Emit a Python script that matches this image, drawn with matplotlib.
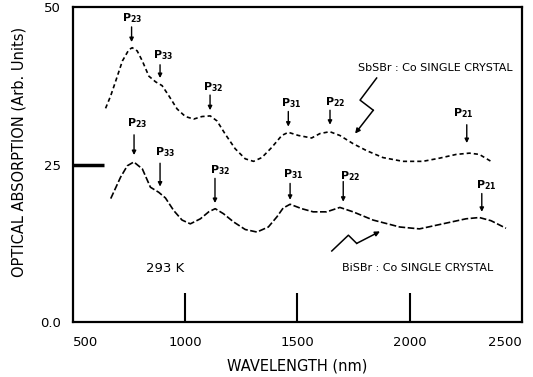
import matplotlib
matplotlib.use("Agg")
import matplotlib.pyplot as plt

# SbSBr:Co curve (upper)
sb_wl = [644, 667, 689, 719, 748, 763, 785, 808, 837, 867, 896, 926, 963, 1000, 1037,
         1074, 1111, 1141, 1178, 1222, 1267, 1304, 1341, 1385, 1430, 1459, 1504, 1563,
         1600, 1644, 1689, 1748, 1808, 1881, 1970, 2059, 2133, 2208, 2267, 2311, 2363]
sb_abs = [33.9, 35.9, 38.2, 41.4, 43.2, 43.5, 43.0, 41.4, 39.0, 38.1, 37.5, 35.9, 33.8, 32.6, 32.2,
          32.6, 32.7, 31.9, 29.8, 27.5, 25.9, 25.5, 26.1, 27.7, 29.6, 30.1, 29.6, 29.2,
          29.9, 30.2, 29.6, 28.3, 27.2, 26.1, 25.5, 25.5, 26.0, 26.6, 26.8, 26.6, 25.5]

# BiSBr:Co curve (lower)
bi_wl = [667, 711, 741, 770, 808, 844, 881, 911, 948, 985, 1022, 1067, 1104, 1133, 1170,
         1215, 1267, 1319, 1370, 1408, 1436, 1467, 1519, 1570, 1630, 1689, 1748, 1837,
         1956, 2044, 2148, 2252, 2311, 2363, 2430]
bi_abs = [19.6, 23.0, 24.8, 25.4, 24.3, 21.4, 20.6, 19.7, 17.7, 16.2, 15.6, 16.4, 17.5, 18.0, 17.2,
          15.9, 14.7, 14.3, 15.1, 16.7, 18.1, 18.7, 18.0, 17.5, 17.5, 18.2, 17.5, 16.2,
          15.1, 14.8, 15.6, 16.4, 16.6, 16.1, 14.9]

# peak markers: subscript, arrow x, arrow top, arrow tip, label x, label y
peak_names = ['23', '33', '32', '31', '22', '21']
sb_arrow_x = [760, 887, 1110, 1459, 1645, 2255]
sb_arrow_top = [46.8, 40.8, 36.0, 33.4, 33.6, 31.3]
sb_arrow_tip = [44.4, 38.7, 33.6, 31.0, 31.3, 28.4]
sb_label_x = [762, 900, 1125, 1474, 1667, 2238]
sb_label_y = [48.2, 42.3, 37.3, 34.7, 34.9, 33.2]

bi_arrow_x = [771, 887, 1132, 1467, 1704, 2322]
bi_arrow_top = [29.7, 25.2, 22.8, 22.0, 22.3, 20.4]
bi_arrow_tip = [26.5, 21.5, 18.9, 19.4, 19.1, 17.5]
bi_label_x = [783, 909, 1154, 1482, 1734, 2344]
bi_label_y = [31.5, 27.0, 24.1, 23.5, 23.1, 21.7]

# squiggly pointers to the curve labels
sb_sq_x = [1853, 1779, 1838, 1757]
sb_sq_y = [38.7, 35.2, 33.6, 29.9]
bi_sq_x = [1653, 1727, 1764, 1868]
bi_sq_y = [11.3, 13.8, 12.5, 14.4]

x_ticks = [500, 1000, 1500, 2000, 2500]
y_ticks = [0, 25, 50]
y_ticklabels = ['0.0', '25', '50']

plt.rcParams['font.family'] = ['DejaVu Sans']
plt.rcParams['mathtext.fontset'] = 'dejavusans'

fig = plt.figure(figsize=(5.33, 3.77), dpi=100)
ax = fig.add_axes([0.1375, 0.1451, 0.9788 - 0.1375, 0.9822 - 0.1451])

ax.plot(sb_wl, sb_abs, color='black', lw=1.2, dashes=(2.5, 1.8))
ax.plot(bi_wl, bi_abs, color='black', lw=1.2, dashes=(4, 1.5))

for i, name in enumerate(peak_names):
    ax.annotate('', xy=(sb_arrow_x[i], sb_arrow_tip[i]), xytext=(sb_arrow_x[i], sb_arrow_top[i]),
                arrowprops=dict(arrowstyle='-|>', lw=1, color='black', mutation_scale=6,
                                shrinkA=0, shrinkB=0))
    ax.text(sb_label_x[i], sb_label_y[i], r'$\mathbf{P_{%s}}$' % name, fontsize=8,
            ha='center', va='center')
    ax.annotate('', xy=(bi_arrow_x[i], bi_arrow_tip[i]), xytext=(bi_arrow_x[i], bi_arrow_top[i]),
                arrowprops=dict(arrowstyle='-|>', lw=1, color='black', mutation_scale=6,
                                shrinkA=0, shrinkB=0))
    ax.text(bi_label_x[i], bi_label_y[i], r'$\mathbf{P_{%s}}$' % name, fontsize=8,
            ha='center', va='center')

for sx, sy in [(sb_sq_x, sb_sq_y), (bi_sq_x, bi_sq_y)]:
    ax.plot(sx[:3], sy[:3], color='black', lw=1.1)
    ax.annotate('', xy=(sx[3], sy[3]), xytext=(sx[2], sy[2]),
                arrowprops=dict(arrowstyle='-|>', lw=1.1, color='black', mutation_scale=7,
                                shrinkA=0, shrinkB=0))

ax.text(2113, 40.3, 'SbSBr : Co SINGLE CRYSTAL', fontsize=8, ha='center', va='center')
ax.text(2037, 8.6, 'BiSBr : Co SINGLE CRYSTAL', fontsize=8, ha='center', va='center')
ax.text(909, 8.6, '293 K', fontsize=9.5, ha='center', va='center')

ax.set_xlim(500, 2500)
ax.set_ylim(0, 50)
ax.set_xticks(x_ticks)
ax.set_xticklabels([str(t) for t in x_ticks], fontsize=9.5)
ax.set_yticks(y_ticks)
ax.set_yticklabels(y_ticklabels, fontsize=9.5)
ax.tick_params(axis='x', direction='in', length=21, width=1.5, pad=10)
ax.tick_params(axis='y', direction='in', length=22, width=2.5, pad=9)
labs = ax.get_xticklabels()
labs[0].set_horizontalalignment('left')
labs[-1].set_horizontalalignment('right')

# only the inner ticks are drawn; the corner ones sit on the frame
for tk in [ax.xaxis.get_major_ticks()[0], ax.xaxis.get_major_ticks()[-1],
           ax.yaxis.get_major_ticks()[0], ax.yaxis.get_major_ticks()[-1]]:
    tk.tick1line.set_visible(False)

for s in ax.spines.values():
    s.set_linewidth(1.6)

ax.set_xlabel('WAVELENGTH (nm)', fontsize=10.5, labelpad=7)
ax.set_ylabel('OPTICAL ABSORPTION (Arb. Units)', fontsize=10.5)
ax.yaxis.set_label_coords(-0.105, 0.54)

fig.savefig('out.png', dpi=100)
